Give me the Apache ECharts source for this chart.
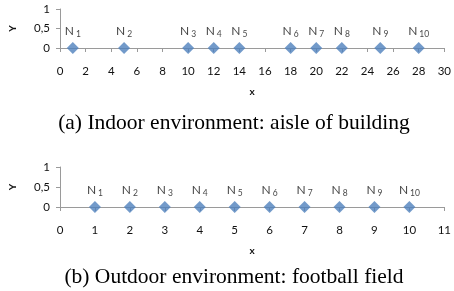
<!DOCTYPE html>
<html><head><meta charset="utf-8">
<script src="https://cdn.jsdelivr.net/npm/echarts@6/dist/echarts.min.js"></script>
<style>html,body{margin:0;padding:0;background:#fff}#c{width:454px;height:291px}</style>
</head><body><div id="c"></div>
<script>
const indoorX = [1, 5, 10, 12, 14, 18, 20, 22, 25, 28];
const indoorY = [0, 0, 0, 0, 0, 0, 0, 0, 0, 0];
const outdoorX = [1, 2, 3, 4, 5, 6, 7, 8, 9, 10];
const outdoorY = [0, 0, 0, 0, 0, 0, 0, 0, 0, 0];
const nodeIds = ['1', '2', '3', '4', '5', '6', '7', '8', '9', '10'];
const captions = ['(a) Indoor environment: aisle of building', '(b) Outdoor environment: football field'];

const tickFont = 'Lato';
const axisColor = '#9a9a9a';
const textColor = '#111';

function yAxis(gi) {
  return {
    gridIndex: gi, type: 'value', min: 0, max: 1, interval: 0.5,
    name: 'Y', nameLocation: 'middle', nameGap: 42, nameRotate: 90,
    nameTextStyle: {fontFamily: tickFont, fontSize: 10, fontWeight: 'bold', color: textColor},
    axisLine: {show: true, lineStyle: {color: axisColor, width: 1}},
    axisTick: {show: true, length: 4, lineStyle: {color: axisColor}},
    splitLine: {show: false},
    axisLabel: {margin: 10, fontFamily: tickFont, fontSize: 11.5, color: textColor,
      formatter: v => String(v).replace('.', ',')}
  };
}
function xAxis(gi, max, interval) {
  return {
    gridIndex: gi, type: 'value', min: 0, max: max, interval: interval,
    name: 'x', nameLocation: 'middle', nameGap: 39,
    nameTextStyle: {fontFamily: tickFont, fontSize: 10, fontWeight: 'bold', color: textColor},
    axisLine: {show: true, onZero: false, lineStyle: {color: axisColor, width: 1}},
    axisTick: {show: true, length: 4, lineStyle: {color: axisColor}},
    splitLine: {show: false},
    axisLabel: {margin: 17, fontFamily: tickFont, fontSize: 11.5, color: textColor}
  };
}
function series(gi, xs, ys) {
  return {
    type: 'scatter', xAxisIndex: gi, yAxisIndex: gi,
    symbol: 'diamond', symbolSize: 12,
    itemStyle: {color: '#4f81bd'},
    data: xs.map((x, i) => [x, ys[i]]),
    label: {
      show: true, position: 'top', distance: 3,
      formatter: p => '{n|N}{s|' + nodeIds[p.dataIndex] + '}',
      rich: {
        n: {fontFamily: tickFont, fontSize: 12, color: textColor, padding: [0, 2, 0, 0]},
        s: {fontFamily: tickFont, fontSize: 8.5, color: textColor, padding: [7, 0, 0, 0]}
      }
    },
    emphasis: {disabled: true}
  };
}

const chart = echarts.init(document.getElementById('c'), null, {renderer: 'canvas'});
chart.setOption({
  animation: false,
  title: [
    {text: captions[0], left: 229, top: 107, textAlign: 'center',
     textStyle: {fontFamily: 'Liberation Serif', fontSize: 21.5, fontWeight: 'normal', color: '#000'}},
    {text: captions[1], left: 229, top: 261, textAlign: 'center',
     textStyle: {fontFamily: 'Liberation Serif', fontSize: 21.5, fontWeight: 'normal', color: '#000'}}
  ],
  grid: [
    {left: 59, right: 7, top: 9, height: 39},
    {left: 59, right: 7, top: 167, height: 40}
  ],
  xAxis: [xAxis(0, 30, 2), xAxis(1, 11, 1)],
  yAxis: [yAxis(0), yAxis(1)],
  series: [series(0, indoorX, indoorY), series(1, outdoorX, outdoorY)]
});
</script></body></html>
